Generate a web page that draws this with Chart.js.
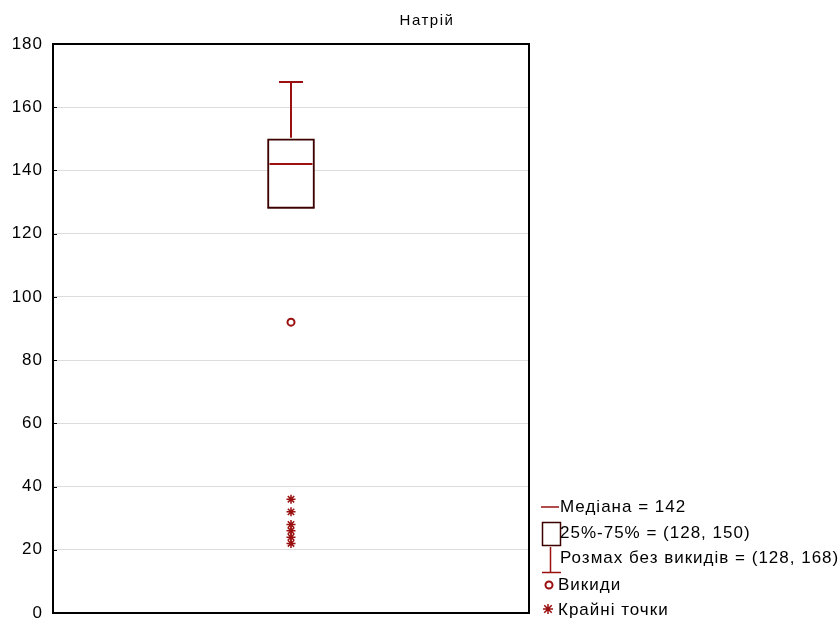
<!DOCTYPE html>
<html>
<head>
<meta charset="utf-8">
<script src="https://cdn.jsdelivr.net/npm/chart.js@4/dist/chart.umd.min.js"></script>
<style>
  html, body { margin: 0; padding: 0; background: #fff; }
  #wrap { width: 840px; height: 619px; }
</style>
</head>
<body>
<div id="wrap"><canvas id="c" width="840" height="619"></canvas></div>
<script>
// Box-plot summary for sodium
const title = 'Натрій';
const categories = ['Натрій'];
const quartiles = [128, 150];       // 25% - 75%
const median = 142;
const whiskerRange = [128, 168];    // range without outliers
const outliers = [92];
const extremes = [36, 32, 28, 26, 24, 22];
const yTicks = [0, 20, 40, 60, 80, 100, 120, 140, 160, 180];

const RED = '#9a1010';
const DARK = '#3c0000';
const FONT = '"Liberation Sans", Arial, sans-serif';

function drawStar(ctx, x, y, r) {
  ctx.beginPath();
  ctx.moveTo(x - r, y); ctx.lineTo(x + r, y);
  ctx.moveTo(x, y - r); ctx.lineTo(x, y + r);
  const d = r * 0.75;
  ctx.moveTo(x - d, y - d); ctx.lineTo(x + d, y + d);
  ctx.moveTo(x - d, y + d); ctx.lineTo(x + d, y - d);
  ctx.stroke();
}

// slightly wider letter spacing for all canvas text
const spacingPlugin = {
  id: 'letterSpacing',
  beforeUpdate(chart) { chart.ctx.letterSpacing = '1px'; },
  beforeDraw(chart) { chart.ctx.letterSpacing = '1px'; }
};

const boxPlotPlugin = {
  id: 'boxPlotExtras',
  beforeDatasetsDraw(chart) {
    const { ctx, chartArea: a, scales: { y } } = chart;
    // inward tick marks on the left axis
    ctx.save();
    ctx.strokeStyle = '#000';
    ctx.lineWidth = 1;
    yTicks.forEach(v => {
      const py = Math.round(y.getPixelForValue(v)) + 0.5;
      ctx.beginPath();
      ctx.moveTo(a.left, py); ctx.lineTo(a.left + 4, py);
      ctx.stroke();
    });
    ctx.restore();
  },
  afterDatasetsDraw(chart) {
    const { ctx, scales: { x, y } } = chart;
    const bar = chart.getDatasetMeta(0).data[0];
    const cx = x.getPixelForValue(0);
    const half = bar.width / 2;
    ctx.save();
    ctx.lineCap = 'butt';
    // median
    ctx.strokeStyle = RED;
    ctx.lineWidth = 2;
    const my = y.getPixelForValue(median);
    ctx.beginPath();
    ctx.moveTo(cx - half + 2, my); ctx.lineTo(cx + half - 2, my);
    ctx.stroke();
    // upper whisker + cap
    const wTop = y.getPixelForValue(whiskerRange[1]);
    const qTop = y.getPixelForValue(quartiles[1]);
    ctx.beginPath();
    ctx.moveTo(cx, qTop - 1); ctx.lineTo(cx, wTop);
    ctx.moveTo(cx - 12, wTop); ctx.lineTo(cx + 12, wTop);
    ctx.stroke();
    // lower whisker collapses onto the box edge
    const wBot = y.getPixelForValue(whiskerRange[0]);
    ctx.strokeStyle = DARK;
    ctx.lineWidth = 1;
    ctx.beginPath();
    ctx.moveTo(cx - half, wBot - 0.5); ctx.lineTo(cx + half, wBot - 0.5);
    ctx.stroke();
    ctx.restore();
  },
  afterDraw(chart) {
    const { ctx, chartArea: a } = chart;
    ctx.save();
    // frame
    ctx.strokeStyle = '#000';
    ctx.lineWidth = 2;
    ctx.strokeRect(a.left, a.top, a.right - a.left, a.bottom - a.top);
    // title
    ctx.fillStyle = '#000';
    ctx.letterSpacing = '1.5px';
    ctx.font = '15px ' + FONT;
    ctx.textAlign = 'center';
    ctx.textBaseline = 'middle';
    ctx.fillText(title, 427, 21);

    // legend
    ctx.letterSpacing = '1px';
    ctx.font = '17px ' + FONT;
    ctx.textAlign = 'left';
    const tx = 560;
    ctx.strokeStyle = RED;
    ctx.lineWidth = 1.5;
    // median
    ctx.beginPath(); ctx.moveTo(541, 507); ctx.lineTo(559, 507); ctx.stroke();
    ctx.fillText(`Медіана = ${median}`, tx, 507);
    // box
    ctx.strokeStyle = DARK;
    ctx.lineWidth = 1.5;
    ctx.strokeRect(542.5, 522.5, 18, 23);
    ctx.fillText(`25%-75% = (${quartiles[0]}, ${quartiles[1]})`, tx, 533);
    // whisker
    ctx.strokeStyle = RED;
    ctx.beginPath();
    ctx.moveTo(550.5, 547); ctx.lineTo(550.5, 572);
    ctx.moveTo(542, 572.5); ctx.lineTo(561, 572.5);
    ctx.stroke();
    ctx.fillText(`Розмах без викидів = (${whiskerRange[0]}, ${whiskerRange[1]})`, tx, 558);
    // outlier
    ctx.lineWidth = 2;
    ctx.beginPath(); ctx.arc(549, 585, 3.5, 0, Math.PI * 2); ctx.stroke();
    ctx.fillText('Викиди', 558, 585);
    // extreme
    ctx.lineWidth = 1.5;
    drawStar(ctx, 548, 609, 5);
    ctx.fillText('Крайні точки', 558, 610);
    ctx.restore();
  }
};

new Chart(document.getElementById('c'), {
  data: {
    labels: categories,
    datasets: [
      {
        type: 'bar',
        data: [quartiles],
        backgroundColor: '#ffffff',
        borderColor: DARK,
        borderWidth: 2,
        borderSkipped: false,
        barThickness: 47,
        order: 3
      },
      {
        type: 'line',
        data: outliers.map(v => ({ x: categories[0], y: v })),
        showLine: false,
        pointStyle: 'circle',
        pointRadius: 3.5,
        pointBorderWidth: 2,
        pointBorderColor: RED,
        pointBackgroundColor: '#ffffff',
        order: 1
      },
      {
        type: 'line',
        data: extremes.map(v => ({ x: categories[0], y: v })),
        showLine: false,
        pointStyle: 'star',
        pointRadius: 4.5,
        pointBorderWidth: 1.5,
        pointBorderColor: RED,
        pointBackgroundColor: RED,
        order: 1
      }
    ]
  },
  options: {
    responsive: false,
    animation: false,
    events: [],
    layout: { padding: { top: 44, right: 311, bottom: 5, left: 0 } },
    plugins: { legend: { display: false }, tooltip: { enabled: false }, title: { display: false } },
    scales: {
      x: {
        type: 'category',
        display: false,
        offset: true
      },
      y: {
        min: 0,
        max: 180,
        afterBuildTicks(axis) { axis.ticks = yTicks.map(v => ({ value: v })); },
        afterFit(axis) {
          axis.width = 53;
          axis.paddingTop = 0;
          axis.paddingBottom = 0;
        },
        ticks: {
          color: '#000',
          padding: 10,
          font: { family: FONT, size: 17 }
        },
        grid: { color: '#dcdcdc', lineWidth: 1, drawTicks: false },
        border: { display: false }
      }
    }
  },
  plugins: [spacingPlugin, boxPlotPlugin]
});
</script>
</body>
</html>
